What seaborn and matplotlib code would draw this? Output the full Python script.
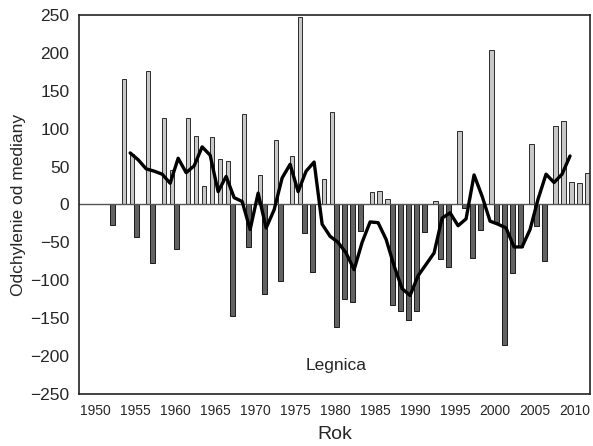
import numpy as np
import pandas as pd
import matplotlib
matplotlib.use('Agg')
import matplotlib.pyplot as plt
import seaborn as sns

# odchylenie od mediany, rok po roku (1952-2011)
years = list(range(1952, 2012))
deviation = [-27, 165, 66, -43, 176, -77, 114, 46, -59, 114,
             90, 25, 89, 60, 58, -147, 120, -56, 39, -118,
             85, -101, 64, 247, -38, -89, 34, 122, -161, -125,
             -128, -35, 16, 18, 7, -133, -140, -152, -140, -36,
             4, -72, -83, 97, -5, -71, -34, 204, -23, -186,
             -91, -56, 80, -28, -74, 104, 110, 30, 28, 42]

# srednia ruchoma (linia)
ma_years = list(range(1954, 2010))
ma_values = [68, 59, 47, 44, 40, 28, 61, 42, 51, 76,
             65, 17, 37, 9, 4, -33, 15, -31, -7, 35,
             53, 17, 44, 56, -26, -42, -50, -64, -86, -50,
             -23, -24, -46, -81, -111, -120, -94, -79, -64, -18,
             -11, -28, -19, 39, 11, -22, -26, -31, -56, -56,
             -33, 7, 40, 29, 40, 64]

tick_years = list(range(1950, 2011, 5))

df = pd.DataFrame({'rok': years, 'odch': deviation})
pos = df[df.odch > 0]
neg = df[df.odch < 0]

sns.set_style('white')
plt.rcParams['font.family'] = ['Liberation Sans', 'DejaVu Sans']

fig = plt.figure(figsize=(5.93, 4.46), dpi=100)
ax = fig.add_axes([0.1332, 0.1166, 0.8618, 0.9664 - 0.1166])

sns.barplot(x=pos.rok + 0.2, y=pos.odch, native_scale=True, width=0.55,
            color='#c8c8c8', edgecolor='#2a2a2a', linewidth=0.7, saturation=1, ax=ax)
sns.barplot(x=neg.rok - 0.2, y=neg.odch, native_scale=True, width=0.55,
            color='#626262', edgecolor='#1a1a1a', linewidth=0.7, saturation=1, ax=ax)
ax.axhline(0, color='#555555', lw=1.0, zorder=1)
sns.lineplot(x=ma_years, y=ma_values, color='black', lw=2.4, ax=ax, zorder=5)

ax.set_xlim(1947.6, 2011.5)
ax.set_ylim(-250, 250)
ax.set_yticks(range(-250, 251, 50))
ax.set_yticklabels([str(v).replace('-', '\u2212') for v in range(-250, 251, 50)], fontsize=12.5)
ax.set_xticks([y - 0.4 for y in tick_years])
ax.set_xticklabels([str(y) for y in tick_years], fontsize=10)
ax.tick_params(axis='y', length=6, width=1, color='#222222', pad=1)
ax.tick_params(axis='x', length=0, pad=7)
for s in ax.spines.values():
    s.set_color('#222222')
    s.set_linewidth(1.2)

ax.set_xlabel('Rok', fontsize=14, labelpad=6)
ax.set_ylabel('Odchylenie od mediany', fontsize=12.5, labelpad=3)
ax.text(1979.8, -213, 'Legnica', fontsize=12.5, ha='center', va='center')

fig.savefig('out.png', dpi=100)
